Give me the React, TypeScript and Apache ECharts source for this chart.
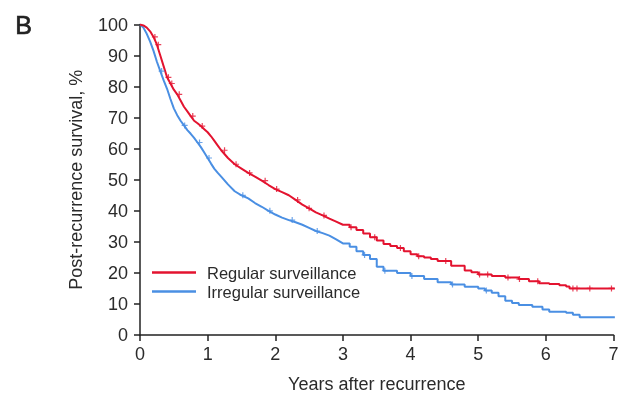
import React, { useEffect, useRef } from "react";
import * as echarts from "echarts";

const xTicks = [0, 1, 2, 3, 4, 5, 6, 7];
const yTicks = [0, 10, 20, 30, 40, 50, 60, 70, 80, 90, 100];

const regularTimes = [
  0, 0.05, 0.1, 0.15, 0.2, 0.25, 0.3, 0.35, 0.4, 0.45, 0.5, 0.55, 0.6, 0.65, 0.7, 0.75, 0.8, 0.85, 0.9, 0.95,
  1.0, 1.05, 1.1, 1.15, 1.2, 1.3, 1.4, 1.5, 1.6, 1.7, 1.8, 1.9, 2.0, 2.1, 2.2, 2.3, 2.4, 2.5, 2.6, 2.7, 2.8,
  2.9, 3.0, 3.1, 3.2, 3.3, 3.4, 3.5, 3.6, 3.7, 3.8, 3.9, 4.0, 4.1, 4.2, 4.3, 4.4, 4.6, 4.8, 4.9, 5.0, 5.2,
  5.4, 5.6, 5.75, 5.9, 6.05, 6.2, 6.3, 6.35, 7.02,
];
const regularSurvival = [
  100, 99.7, 99, 97.8, 96, 93.5, 90, 86.5, 83, 81, 79, 77.5, 75.5, 73.5, 72, 70.5, 69, 68.2, 67.3, 66.3,
  65.3, 64, 62.5, 61, 59.5, 57, 55, 53.6, 52.2, 51, 49.7, 48.3, 47, 46, 45, 43.5, 42, 40.8, 39.5, 38.5, 37.5,
  36.5, 35.5, 34.7, 33.8, 32.7, 31.5, 30.4, 29.3, 28.7, 28, 27, 26, 25.4, 25, 24.5, 23.8, 22.3, 20.8, 20.2, 19.5, 19,
  18.5, 18, 17.3, 16.7, 16.4, 16, 15.6, 15, 15,
];

const irregularTimes = [
  0, 0.05, 0.1, 0.15, 0.2, 0.25, 0.3, 0.35, 0.4, 0.45, 0.5, 0.55, 0.6, 0.65, 0.7, 0.75, 0.8, 0.85, 0.9, 0.95,
  1.0, 1.05, 1.1, 1.15, 1.2, 1.3, 1.4, 1.5, 1.6, 1.7, 1.8, 1.9, 2.0, 2.1, 2.2, 2.3, 2.4, 2.5, 2.6, 2.7, 2.8,
  2.9, 3.0, 3.1, 3.2, 3.3, 3.4, 3.5, 3.6, 3.8, 4.0, 4.2, 4.4, 4.6, 4.8, 5.0, 5.1, 5.2, 5.3, 5.4, 5.5, 5.6,
  5.8, 5.95, 6.05, 6.3, 6.4, 6.5, 7.02,
];
const irregularSurvival = [
  100, 99, 97, 94.5, 91.5, 88, 85, 82, 79.3, 76, 73, 70.8, 69, 67.5, 66, 64.8, 63.5, 62, 60.5, 58.8,
  57, 55.2, 53.5, 52.2, 51, 48.5, 46.3, 45, 44, 42.5, 41.3, 40, 38.8, 37.8, 37, 36.3, 35.5, 34.5, 33.5, 32.8, 32,
  30.8, 29.5, 28.4, 27, 25.8, 24.5, 22, 20.7, 20, 19, 18, 17, 16.3, 15.5, 15, 14.3, 13.6, 12.5, 11, 10.3, 9.7,
  9.1, 8.2, 7.5, 7.2, 6.5, 5.7, 5.7,
];

// censored observation times
const regularCensor = [0.22, 0.27, 0.42, 0.47, 0.58, 0.78, 0.92, 1.25, 1.42, 1.62, 1.85, 2.02, 2.33, 2.5, 2.72, 3.12, 3.47, 3.85, 4.12, 4.52, 5.02, 5.14, 5.44, 5.61, 5.88, 6.4, 6.46, 6.65, 6.97];
const irregularCensor = [0.32, 0.66, 0.88, 1.02, 1.52, 1.92, 2.25, 2.62, 3.32, 3.62, 4.02, 4.62, 5.12];

// before this time the many small KM steps are drawn as a continuous line
const denseUntil = 3.0;

function stepAt(times: number[], vals: number[], t: number): number {
  let v = vals[0];
  for (let i = 0; i < times.length; i++) {
    if (times[i] <= t) v = vals[i];
  }
  return v;
}

function kmPath(times: number[], vals: number[]): number[][] {
  const out: number[][] = [];
  for (let i = 0; i < times.length; i++) {
    if (i > 0 && times[i] > denseUntil) out.push([times[i], vals[i - 1]]);
    out.push([times[i], vals[i]]);
  }
  return out;
}

const RED = "#e3132f";
const BLUE = "#4a8fe3";
const FONT = "Liberation Sans, Arial, sans-serif";
const TXT = "#2b2b2b";
const CROSS = "path://M4,0H6V4H10V6H6V10H4V6H0V4H4Z";

export default function App() {
  const ref = useRef<HTMLDivElement>(null);
  useEffect(() => {
    if (!ref.current) return;
    const chart = echarts.init(ref.current, undefined, { renderer: "svg" });
    const regLine = kmPath(regularTimes, regularSurvival);
    const irrLine = kmPath(irregularTimes, irregularSurvival);
    const regC = regularCensor.map((t) => [t, stepAt(regularTimes, regularSurvival, t)]);
    const irrC = irregularCensor.map((t) => [t, stepAt(irregularTimes, irregularSurvival, t)]);
    chart.setOption({
      animation: false,
      textStyle: { fontFamily: FONT },
      grid: { left: 140, right: 7.5, top: 24.5, bottom: 63, containLabel: false, outerBoundsMode: "none" } as any,
      graphic: [
        {
          type: "text",
          left: 15,
          top: 12,
          style: { text: "B", fontSize: 25, fontFamily: FONT, fill: "#222", stroke: "#222", lineWidth: 0.7 },
        },
      ],
      legend: {
        left: 152,
        top: 263.5,
        orient: "vertical",
        itemGap: 1,
        itemWidth: 44,
        itemHeight: 2.5,
        icon: "rect",
        data: ["Regular surveillance", "Irregular surveillance"],
        textStyle: { fontSize: 16.5, color: TXT, lineHeight: 18, padding: [0, 0, 0, 6], fontFamily: FONT },
        padding: 0,
      },
      xAxis: {
        type: "value",
        min: 0,
        max: 7,
        interval: 1,
        name: "Years after recurrence",
        nameLocation: "middle",
        nameGap: 40,
        nameTextStyle: { fontSize: 18, color: TXT, fontFamily: FONT },
        axisLine: { show: true, lineStyle: { color: "#222", width: 1.5 } },
        axisTick: { show: true, length: 6, lineStyle: { color: "#222", width: 1.5 } },
        axisLabel: { fontSize: 18, color: TXT, margin: 10, fontFamily: FONT, formatter: (v: number) => (xTicks.includes(v) ? String(v) : "") },
        splitLine: { show: false },
      },
      yAxis: {
        type: "value",
        min: 0,
        max: 100,
        interval: 10,
        name: "Post-recurrence survival, %",
        nameLocation: "middle",
        nameRotate: 90,
        nameGap: 55,
        nameTextStyle: { fontSize: 18, color: TXT, fontFamily: FONT },
        axisLine: { show: true, lineStyle: { color: "#222", width: 1.5 } },
        axisTick: { show: true, length: 6, lineStyle: { color: "#222", width: 1.5 } },
        axisLabel: { fontSize: 18, color: TXT, margin: 12, fontFamily: FONT, formatter: (v: number) => (yTicks.includes(v) ? String(v) : "") },
        splitLine: { show: false },
      },
      series: [
        {
          name: "Regular surveillance",
          type: "line",
          data: regLine,
          showSymbol: false,
          symbol: "none",
          lineStyle: { color: RED, width: 2 },
          itemStyle: { color: RED },
          z: 3,
        },
        {
          name: "Irregular surveillance",
          type: "line",
          data: irrLine,
          showSymbol: false,
          symbol: "none",
          lineStyle: { color: BLUE, width: 2 },
          itemStyle: { color: BLUE },
          z: 2,
        },
        {
          name: "regCensor",
          type: "scatter",
          data: regC,
          symbol: CROSS,
          symbolSize: 6,
          itemStyle: { color: RED },
          z: 4,
        },
        {
          name: "irrCensor",
          type: "scatter",
          data: irrC,
          symbol: CROSS,
          symbolSize: 6,
          itemStyle: { color: BLUE },
          z: 4,
        },
      ],
    });
    return () => chart.dispose();
  }, []);
  return <div ref={ref} style={{ position: "fixed", left: 0, top: 0, width: 621, height: 398 }} />;
}
